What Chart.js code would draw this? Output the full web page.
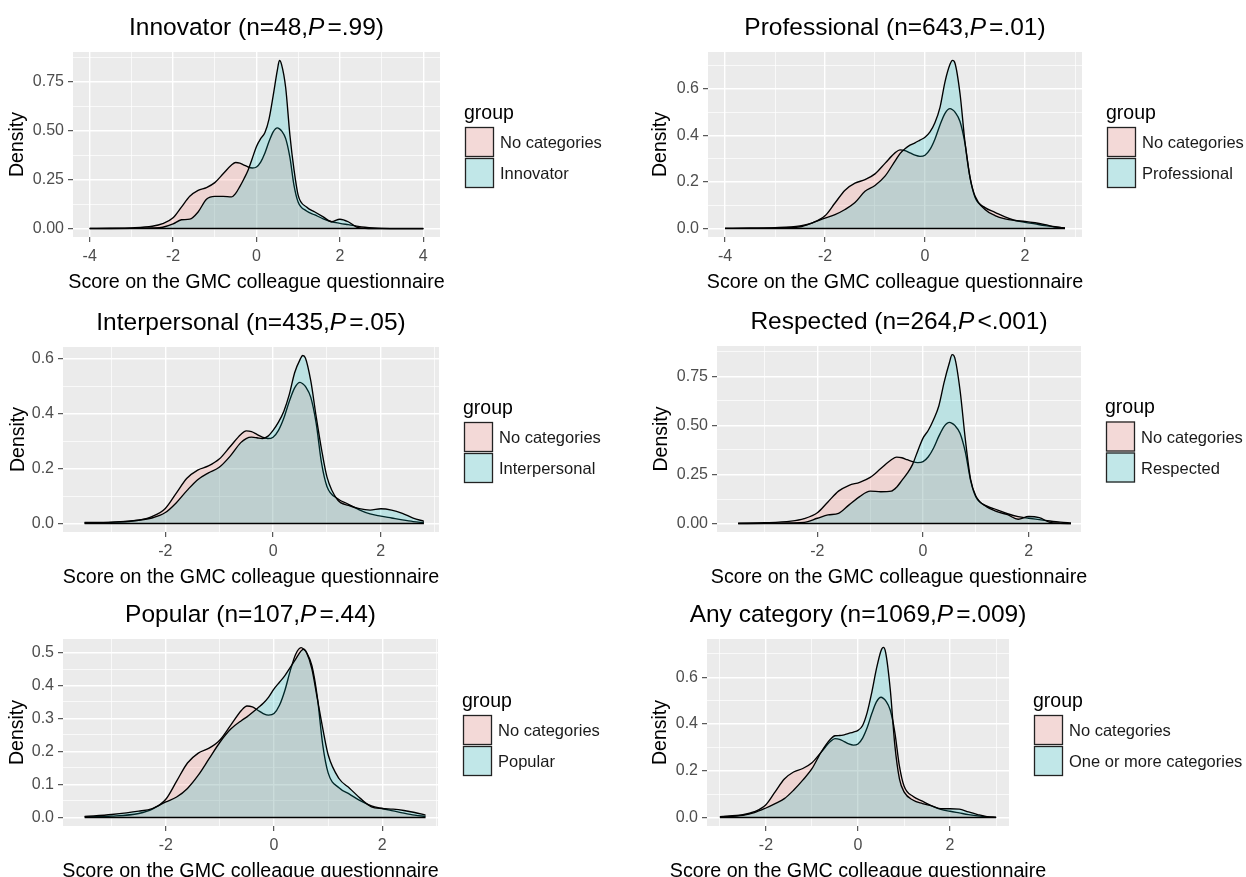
<!DOCTYPE html>
<html>
<head>
<meta charset="utf-8">
<script src="https://cdn.jsdelivr.net/npm/chart.js@4.4.1/dist/chart.umd.min.js"></script>
<style>
  html, body { margin: 0; padding: 0; background: #fff; }
  body { width: 1246px; height: 877px; position: relative; overflow: hidden; }
  canvas { position: absolute; }
</style>
</head>
<body>
<canvas id="c1"></canvas>
<canvas id="c2"></canvas>
<canvas id="c3"></canvas>
<canvas id="c4"></canvas>
<canvas id="c5"></canvas>
<canvas id="c6"></canvas>
<script>
// score grid shared by all density curves
const scoreGrid = [-4, -3.5, -3, -2.5, -2.25, -2, -1.8, -1.6, -1.4, -1.2, -1, -0.8, -0.6, -0.5, -0.4, -0.3, -0.2, -0.1,
  0, 0.1, 0.2, 0.3, 0.4, 0.5, 0.55, 0.6, 0.7, 0.8, 0.9, 1, 1.2, 1.4, 1.6, 1.8, 2, 2.2, 2.4, 2.6, 2.8, 3, 3.5, 4];

// density, one value per grid point
const noCategories = [0.001, 0.002, 0.004, 0.012, 0.025, 0.055, 0.11, 0.165, 0.195, 0.21, 0.235, 0.28, 0.325, 0.338, 0.335, 0.325, 0.315, 0.31,
  0.315, 0.34, 0.385, 0.445, 0.495, 0.515, 0.51, 0.5, 0.46, 0.365, 0.22, 0.135, 0.09, 0.07, 0.05, 0.035, 0.027, 0.02, 0.013, 0.007, 0.003, 0.001, 0, 0];
const innovator = [0, 0, 0.001, 0.003, 0.007, 0.024, 0.045, 0.048, 0.085, 0.15, 0.165, 0.165, 0.162, 0.18, 0.215, 0.255, 0.3, 0.36,
  0.42, 0.46, 0.49, 0.56, 0.68, 0.81, 0.86, 0.84, 0.72, 0.48, 0.3, 0.17, 0.11, 0.085, 0.06, 0.035, 0.048, 0.035, 0.008, 0.001, 0, 0, 0, 0];
const professional = [0.001, 0.002, 0.003, 0.008, 0.025, 0.045, 0.06, 0.082, 0.112, 0.16, 0.185, 0.225, 0.29, 0.322, 0.343, 0.358, 0.368, 0.38,
  0.392, 0.415, 0.455, 0.52, 0.63, 0.705, 0.722, 0.71, 0.58, 0.37, 0.22, 0.14, 0.082, 0.056, 0.042, 0.035, 0.031, 0.025, 0.017, 0.008, 0.002, 0, 0, 0];
const interpersonal = [0, 0.004, 0.005, 0.012, 0.02, 0.04, 0.075, 0.12, 0.16, 0.185, 0.205, 0.245, 0.295, 0.31, 0.315, 0.313, 0.31, 0.318,
  0.34, 0.37, 0.41, 0.47, 0.55, 0.598, 0.613, 0.604, 0.52, 0.39, 0.27, 0.17, 0.085, 0.066, 0.054, 0.049, 0.054, 0.049, 0.037, 0.02, 0.008, 0, 0, 0];
const respected = [0, 0, 0.001, 0.003, 0.006, 0.027, 0.044, 0.052, 0.095, 0.137, 0.165, 0.162, 0.165, 0.185, 0.22, 0.255, 0.3, 0.37,
  0.435, 0.475, 0.53, 0.6, 0.72, 0.82, 0.86, 0.845, 0.68, 0.43, 0.225, 0.14, 0.086, 0.061, 0.045, 0.022, 0.036, 0.03, 0.006, 0.001, 0, 0, 0, 0];
const popular = [0, 0.003, 0.009, 0.019, 0.027, 0.047, 0.062, 0.088, 0.128, 0.178, 0.228, 0.268, 0.294, 0.305, 0.318, 0.332, 0.346, 0.365,
  0.39, 0.41, 0.43, 0.455, 0.48, 0.505, 0.51, 0.5, 0.45, 0.36, 0.27, 0.19, 0.118, 0.088, 0.057, 0.032, 0.027, 0.025, 0.021, 0.015, 0.007, 0, 0, 0];
const anyCategory = [0, 0, 0.003, 0.01, 0.021, 0.041, 0.06, 0.081, 0.117, 0.16, 0.209, 0.28, 0.335, 0.35, 0.351, 0.354, 0.36, 0.366,
  0.373, 0.394, 0.45, 0.536, 0.636, 0.714, 0.728, 0.707, 0.55, 0.31, 0.166, 0.11, 0.074, 0.06, 0.05, 0.038, 0.038, 0.036, 0.024, 0.013, 0.004, 0.001, 0, 0];

const groupSeries = [innovator, professional, interpersonal, respected, popular, anyCategory];
const titleNames = ['Innovator', 'Professional', 'Interpersonal', 'Respected', 'Popular', 'Any category'];
const groupNames = ['Innovator', 'Professional', 'Interpersonal', 'Respected', 'Popular', 'One or more categories'];
const groupSizes = [48, 643, 435, 264, 107, 1069];
const pValues = ['=.99', '=.01', '=.05', '<.001', '=.44', '=.009'];
const scoreRanges = [[-4, 4], [-4, 2.8], [-3.5, 2.8], [-3.5, 2.8], [-3.5, 2.8], [-3, 3]];
const xLimits = [[-4.4, 4.4], [-4.34, 3.14], [-3.9, 3.08], [-3.9, 2.99], [-3.9, 3.03], [-3.28, 3.28]];
const yLimits = [[-0.043, 0.903], [-0.036, 0.758], [-0.031, 0.644], [-0.043, 0.904], [-0.026, 0.541], [-0.036, 0.764]];
const xMajorTicks = [[-4, -2, 0, 2, 4], [-4, -2, 0, 2], [-2, 0, 2], [-2, 0, 2], [-2, 0, 2], [-2, 0, 2]];
const yMajorTicks = [[0, 0.25, 0.5, 0.75], [0, 0.2, 0.4, 0.6], [0, 0.2, 0.4, 0.6], [0, 0.25, 0.5, 0.75],
  [0, 0.1, 0.2, 0.3, 0.4, 0.5], [0, 0.2, 0.4, 0.6]];
const yDecimals = [2, 1, 1, 2, 1, 1];
const xTitle = 'Score on the GMC colleague questionnaire';

// canvas cell [x, y, w, h], plot area [left, top, right, bottom], x of the "Density" label
const frames = [
  { cell: [0, 0, 640, 295], area: [73, 52, 440, 237], densityX: 18 },
  { cell: [640, 0, 606, 295], area: [708, 52, 1082, 237], densityX: 661 },
  { cell: [0, 295, 640, 293], area: [63, 347, 439, 532], densityX: 19 },
  { cell: [640, 295, 606, 293], area: [717, 346, 1081, 532], densityX: 662 },
  { cell: [0, 588, 640, 300], area: [63, 639, 438, 826], densityX: 18 },
  { cell: [640, 588, 606, 300], area: [707, 639, 1009, 826], densityX: 661 }
];

const FONT = '"Liberation Sans", Arial, Helvetica, sans-serif';
const PINK = 'rgba(248,118,109,0.2)';
const TEAL = 'rgba(0,191,196,0.2)';
Chart.defaults.font.family = FONT;

// grey panel, title with italic P, x axis title, ggplot style legend
const ggDecor = {
  id: 'ggDecor',
  beforeDraw(chart) {
    const a = chart.chartArea, ctx = chart.ctx;
    ctx.save();
    ctx.fillStyle = '#EBEBEB';
    ctx.fillRect(a.left, a.top, a.right - a.left, a.bottom - a.top);
    ctx.restore();
  },
  afterDraw(chart, args, o) {
    const a = chart.chartArea, ctx = chart.ctx;
    const cxm = (a.left + a.right) / 2;
    ctx.save();
    ctx.textAlign = 'left';
    ctx.textBaseline = 'alphabetic';
    ctx.fillStyle = '#000';

    // plot title
    const normal = '24.5px ' + FONT, italic = 'italic 24.5px ' + FONT;
    const pre = o.title + ' (n=' + o.n + ',';
    const post = o.p + ')';
    ctx.font = normal;
    const w1 = ctx.measureText(pre).width, w3 = ctx.measureText(post).width;
    ctx.font = italic;
    const w2 = ctx.measureText('P').width + 3;
    let x = cxm - (w1 + w2 + w3) / 2;
    const y = a.top - 17;
    ctx.font = normal; ctx.fillText(pre, x, y); x += w1;
    ctx.font = italic; ctx.fillText('P', x, y); x += w2;
    ctx.font = normal; ctx.fillText(post, x, y);

    // x axis title, centred under the panel (may be wider than the panel)
    ctx.font = '19.7px ' + FONT;
    ctx.textAlign = 'center';
    ctx.fillText(xTitle, cxm, a.bottom + 51);
    ctx.textAlign = 'left';

    // legend
    const kx = a.right + 25;
    const ky = (a.top + a.bottom) / 2 - 17.5;
    ctx.font = '19.5px ' + FONT;
    ctx.fillText('group', kx - 1, ky - 8.5);
    o.keys.forEach((k, i) => {
      const top = ky + i * 31;
      ctx.fillStyle = '#F2F2F2';
      ctx.fillRect(kx, top, 29, 30);
      ctx.fillStyle = k.fill;
      ctx.fillRect(kx, top, 29, 30);
      ctx.strokeStyle = '#222';
      ctx.lineWidth = 1.3;
      ctx.strokeRect(kx + 0.5, top + 0.5, 28, 29);
      ctx.fillStyle = '#1A1A1A';
      ctx.font = '16.5px ' + FONT;
      ctx.fillText(k.label, kx + 35, top + 15 + 6);
    });
    ctx.restore();
  }
};

function withMinors(major, lim) {
  const step = major[1] - major[0];
  const all = [];
  for (let v = major[0] - step / 2; v <= lim[1] + 1e-9; v += step / 2) {
    if (v >= lim[0] - 1e-9) all.push(Math.round(v * 10000) / 10000);
  }
  return all;
}

function isIn(list, v) {
  return list.some(m => Math.abs(m - v) < 1e-6);
}

function axisOptions(lim, major, fmt, pad, extra) {
  const ticks = withMinors(major, lim);
  return Object.assign({
    type: 'linear',
    min: lim[0],
    max: lim[1],
    border: { display: false },
    afterBuildTicks: s => { s.ticks = ticks.map(v => ({ value: v })); },
    grid: {
      color: '#FFFFFF',
      lineWidth: c => (c.tick && isIn(major, c.tick.value)) ? 1.4 : 0.7,
      tickColor: c => (c.tick && isIn(major, c.tick.value)) ? '#333333' : 'rgba(0,0,0,0)',
      tickLength: 5,
      tickWidth: 1
    },
    ticks: {
      autoSkip: false,
      maxRotation: 0,
      minRotation: 0,
      padding: pad,
      color: '#4D4D4D',
      font: { size: 16 },
      callback: v => isIn(major, v) ? fmt(v) : ''
    }
  }, extra);
}

frames.forEach((f, i) => {
  const [cx, cy, cw, ch] = f.cell;
  const [L, T, R, B] = f.area;
  const padL = 4, yW = L - cx - padL, xH = 56;
  const canvas = document.getElementById('c' + (i + 1));
  canvas.width = cw;
  canvas.height = ch;
  canvas.style.left = cx + 'px';
  canvas.style.top = cy + 'px';

  const [lo, hi] = scoreRanges[i];
  const pts = ys => scoreGrid.map((x, k) => ({ x, y: ys[k] })).filter(p => p.x >= lo - 1e-9 && p.x <= hi + 1e-9);
  const curve = (label, ys, fill, order) => ({
    label, data: pts(ys), borderColor: '#000', borderWidth: 1.35, backgroundColor: fill,
    fill: 'origin', pointRadius: 0, cubicInterpolationMode: 'monotone', order
  });

  const dec = yDecimals[i];
  new Chart(canvas, {
    type: 'line',
    data: {
      datasets: [
        curve('No categories', noCategories, PINK, 3),
        curve(groupNames[i], groupSeries[i], TEAL, 2),
        { label: 'base', data: [{ x: lo, y: 0 }, { x: hi, y: 0 }], borderColor: '#000', borderWidth: 1.5,
          fill: false, pointRadius: 0, order: 1 }
      ]
    },
    options: {
      responsive: false,
      animation: false,
      events: [],
      layout: { padding: { left: padL, top: T - cy, right: cx + cw - R, bottom: cy + ch - B - xH } },
      scales: {
        x: axisOptions(xLimits[i], xMajorTicks[i], v => String(v), 5, {
          position: 'bottom',
          afterFit: s => { s.height = xH; s.paddingLeft = 0; s.paddingRight = 0; }
        }),
        y: axisOptions(yLimits[i], yMajorTicks[i], v => v.toFixed(dec), 4, {
          position: 'left',
          afterFit: s => { s.width = yW; s.paddingTop = 0; s.paddingBottom = 0; },
          title: { display: true, text: 'Density', color: '#000', font: { size: 19.5 },
            padding: { top: f.densityX - cx - padL - 11.7, bottom: 0 } }
        })
      },
      plugins: {
        legend: { display: false },
        tooltip: { enabled: false },
        ggDecor: {
          title: titleNames[i], n: groupSizes[i], p: pValues[i],
          keys: [{ label: 'No categories', fill: PINK }, { label: groupNames[i], fill: TEAL }]
        }
      }
    },
    plugins: [ggDecor]
  });
});
</script>
</body>
</html>
